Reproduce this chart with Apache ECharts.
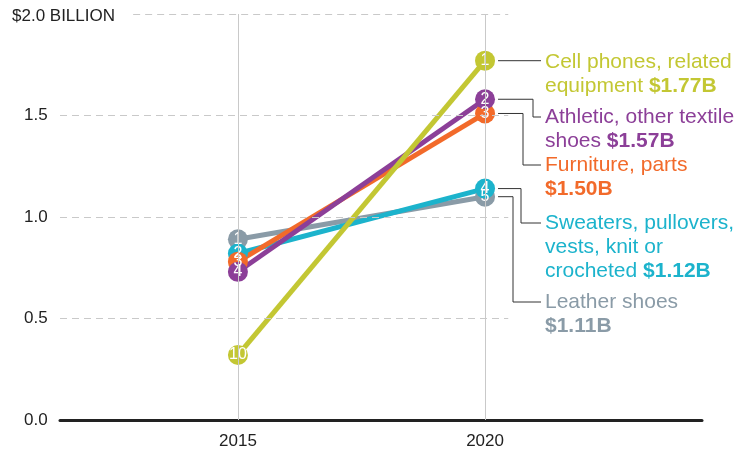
<!DOCTYPE html>
<html>
<head>
<meta charset="utf-8">
<script src="https://cdn.jsdelivr.net/npm/echarts@6/dist/echarts.min.js"></script>
<style>
  html, body { margin: 0; padding: 0; background: #fff; }
  #chart { width: 746px; height: 455px; }
</style>
</head>
<body>
<div id="chart"></div>
<script>
// data
const years = [2015, 2020];
const categories = ['Cell phones, related equipment', 'Athletic, other textile shoes', 'Furniture, parts', 'Sweaters, pullovers, vests, knit or crocheted', 'Leather shoes'];
const values2015 = [0.32, 0.73, 0.78, 0.82, 0.89];
const values2020 = [1.77, 1.58, 1.51, 1.14, 1.10];
const ranks2015 = [10, 4, 3, 2, 1];
const ranks2020 = [1, 2, 3, 4, 5];
const valueLabels = ['$1.77B', '$1.57B', '$1.50B', '$1.12B', '$1.11B'];
const labelLines = [
  ['Cell phones, related', 'equipment '],
  ['Athletic, other textile', 'shoes '],
  ['Furniture, parts', ''],
  ['Sweaters, pullovers,', 'vests, knit or', 'crocheted '],
  ['Leather shoes', '']
];
const yTicks = ['0.0', '0.5', '1.0', '1.5', '$2.0 BILLION'];
const gridValues = [0.5, 1.0, 1.5, 2.0];

const colors = ['#c3c733', '#8c3f98', '#f26a2a', '#1cb3cc', '#8a9ba7'];
const FONT = '"Liberation Sans", Arial, sans-serif';

// layout
const xMin = 2011.4, xMax = 2024.39;
const gridEnd = 2020.47;     // dashed lines stop here
const topLineStart = 2012.88; // after "$2.0 BILLION"
const labelTop = [50, 105, 153, 211, 290];
const elbowX = [null, 533, 523, 521, 513];
const textX = 545;

const chart = echarts.init(document.getElementById('chart'));

const gridLines = gridValues.map(v => [
  { coord: [v === 2.0 ? topLineStart : xMin, v] },
  { coord: [gridEnd, v] }
]);
const yearLines = years.map(y => ({ xAxis: y, lineStyle: { type: 'solid', color: '#c9c9c9', width: 1 } }));

const series = [{
  type: 'line',
  data: [],
  z: 1,
  silent: true,
  markLine: {
    symbol: 'none',
    silent: true,
    label: { show: false },
    lineStyle: { type: [7, 5], color: '#c9c9c9', width: 1 },
    data: gridLines.concat(yearLines)
  }
}];

// draw in reverse so cell phones ends up on top
for (let i = categories.length - 1; i >= 0; i--) {
  const ranks = [ranks2015[i], ranks2020[i]];
  series.push({
    name: categories[i],
    type: 'line',
    data: years.map((y, k) => [y, k === 0 ? values2015[i] : values2020[i]]),
    symbol: 'circle',
    symbolSize: 20,
    showSymbol: true,
    color: colors[i],
    lineStyle: { width: 5, color: colors[i] },
    itemStyle: { color: colors[i] },
    label: {
      show: true,
      position: 'inside',
      align: 'center',
      verticalAlign: 'middle',
      color: '#fff',
      fontSize: 16,
      fontFamily: FONT,
      formatter: p => String(ranks[p.dataIndex])
    },
    emphasis: { disabled: true }
  });
}

chart.setOption({
  animation: false,
  grid: { left: 60, right: 44, top: 14, bottom: 35 },
  xAxis: {
    type: 'value',
    min: xMin,
    max: xMax,
    axisLine: { show: true, lineStyle: { color: '#222', width: 3 } },
    axisTick: { show: false },
    splitLine: { show: false },
    axisLabel: {
      customValues: years,
      formatter: v => String(v),
      color: '#222',
      fontSize: 17,
      fontFamily: FONT,
      margin: 13
    }
  },
  yAxis: {
    type: 'value',
    min: 0,
    max: 2,
    interval: 0.5,
    axisLine: { show: false },
    axisTick: { show: false },
    splitLine: { show: false },
    axisLabel: {
      align: 'left',
      margin: 48,
      color: '#222',
      fontSize: 17,
      fontFamily: FONT,
      formatter: (v, i) => i === 4 ? '{top|' + yTicks[i] + '}' : '{num|' + yTicks[i] + '}',
      rich: {
        top: { fontSize: 17, fontFamily: FONT, color: '#222', padding: [4, 0, 0, 0] },
        num: { fontSize: 17, fontFamily: FONT, color: '#222', padding: [0, 0, 0, 12] }
      }
    }
  },
  series: series
});

// right-hand labels with elbow connectors
const graphics = [];
categories.forEach((c, i) => {
  const p = chart.convertToPixel({ gridIndex: 0 }, [2020, values2020[i]]);
  const ly = labelTop[i] + 12;
  const startX = p[0] + 13;
  let pts;
  if (elbowX[i] === null) {
    pts = [[startX, p[1]], [textX - 4, p[1]]];
  } else {
    pts = [[startX, p[1]], [elbowX[i], p[1]], [elbowX[i], ly], [textX - 4, ly]];
  }
  graphics.push({
    type: 'polyline',
    shape: { points: pts },
    style: { stroke: '#333', lineWidth: 1, fill: null },
    silent: true
  });
  const lines = labelLines[i].slice();
  lines[lines.length - 1] = lines[lines.length - 1] + '{b|' + valueLabels[i] + '}';
  graphics.push({
    type: 'text',
    x: textX,
    y: labelTop[i],
    silent: true,
    style: {
      text: lines.join('\n'),
      fill: colors[i],
      font: '21px ' + FONT,
      lineHeight: 24,
      verticalAlign: 'top',
      rich: {
        b: { fontWeight: 'bold', fontSize: 21, fontFamily: FONT, fill: colors[i], lineHeight: 24 }
      }
    }
  });
});
chart.setOption({ graphic: graphics });
</script>
</body>
</html>
